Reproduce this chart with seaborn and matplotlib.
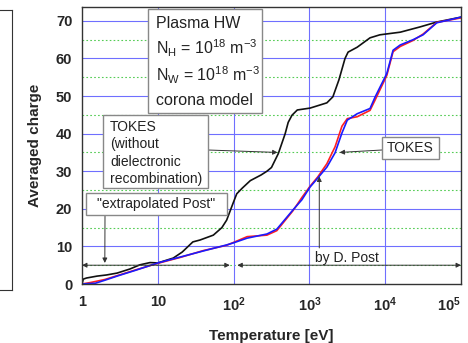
import matplotlib
matplotlib.use('Agg')
import matplotlib.pyplot as plt
from matplotlib.patches import Rectangle
from matplotlib.ticker import FixedLocator, LogLocator, NullFormatter
import seaborn as sns
import pandas as pd

# averaged charge of W vs electron temperature
t_nodr = [1.0, 1.04, 1.15, 1.58, 2.1, 2.9, 4.3, 5.8, 7.9, 10, 16, 21, 29, 36, 54, 70, 81, 98,
          110, 130, 166, 230, 275, 316, 389, 479, 525, 589, 692, 1020, 1700, 2040, 2450,
          2950, 3240, 4270, 6310, 8510, 15800, 28800, 47900, 100000]
z_nodr = [0, 1.3, 1.6, 2.1, 2.4, 2.9, 4.0, 5.1, 5.7, 5.6, 6.9, 8.5, 11.2, 11.7, 13.0, 15.0, 17.0, 21.4,
          24.0, 25.5, 27.5, 29.0, 30.0, 31.0, 34.7, 40.0, 43.0, 44.9, 46.3, 46.8, 48.2, 49.8, 54.3,
          60.0, 61.7, 63.0, 65.5, 66.3, 67.0, 68.4, 69.7, 71.0]

t_post = [1, 1.3, 2, 3, 5, 10, 20, 40, 81, 98, 151, 275, 372, 607, 795, 1020, 1290, 1700, 2180,
          2690, 3160, 4270, 6310, 7380, 10500, 12700, 15800, 23300, 31600, 47900, 100000]
z_post = [0, 0.4, 1.2, 2.3, 3.7, 5.5, 7.1, 8.9, 10.3, 11.0, 12.6, 13.0, 14.2, 19.5, 23.0, 26.0, 28.5,
          32.0, 36.5, 42.0, 44.0, 44.5, 46.2, 49.0, 55.5, 61.8, 63.2, 64.8, 66.5, 69.6, 70.8]

t_tokes = [1, 1.5, 2, 3, 5, 10, 20, 40, 81, 98, 151, 275, 372, 607, 795, 1020, 1290, 1700, 2180,
           2690, 3160, 4270, 6310, 7380, 10500, 12700, 15800, 23300, 31600, 47900, 100000]
z_tokes = [0, 0.2, 1.0, 2.2, 3.6, 5.6, 7.2, 8.8, 10.4, 10.9, 12.2, 13.3, 14.6, 19.7, 22.4, 25.8, 28.2,
           31.1, 34.9, 40.2, 43.6, 45.3, 46.7, 49.8, 56.0, 62.2, 63.6, 65.0, 66.3, 69.5, 71.0]

x_ticks = [1, 10, 100, 1000, 10000, 100000]
x_labels = ['1', '10', r'$\mathbf{10^{2}}$', r'$\mathbf{10^{3}}$', r'$\mathbf{10^{4}}$', r'$\mathbf{10^{5}}$']
y_ticks = [0, 10, 20, 30, 40, 50, 60, 70]

W, H = 468, 343


def fx(px):
    return px / W


def fy(py):
    return 1 - py / H


sns.set_style('white')
plt.rcParams['font.family'] = ['Liberation Sans', 'DejaVu Sans']
plt.rcParams['mathtext.fontset'] = 'custom'
plt.rcParams['mathtext.rm'] = 'Liberation Sans'
plt.rcParams['mathtext.bf'] = 'Liberation Sans:bold'
plt.rcParams['mathtext.it'] = 'Liberation Sans:italic'

fig = plt.figure(figsize=(W / 100, H / 100), dpi=100)
ax = fig.add_axes([fx(82), fy(284), (461 - 82) / W, (284 - 7) / H])

# cut-off neighbouring panel on the far left
ax0 = fig.add_axes([-0.02, fy(290), fx(12) + 0.02, (290 - 10) / H])
ax0.set_xticks([])
ax0.set_yticks([])
ax0.spines['left'].set_visible(False)
for s in ['right', 'top', 'bottom']:
    ax0.spines[s].set_color('#333333')

# grid
for y in y_ticks[1:]:
    ax.axhline(y, color='#6f6fff', lw=0.8, zorder=0)
for y in [5, 15, 25, 35, 45, 55, 65]:
    ax.axhline(y, color='#55cc55', lw=0.8, ls=(0, (1.5, 2)), zorder=0)
for x in x_ticks[1:-1]:
    ax.axvline(x, color='#6f6fff', lw=0.8, zorder=0)

df = pd.concat([
    pd.DataFrame({'T': t_nodr, 'Z': z_nodr, 'run': 'nodr'}),
    pd.DataFrame({'T': t_post, 'Z': z_post, 'run': 'post'}),
    pd.DataFrame({'T': t_tokes, 'Z': z_tokes, 'run': 'tokes'}),
])
sns.lineplot(data=df, x='T', y='Z', hue='run', estimator=None, sort=False,
             palette={'nodr': '#111111', 'post': '#ff2020', 'tokes': '#1a1aff'},
             lw=1.2, legend=False, ax=ax)

ax.set_xscale('log')
ax.set_xlim(1, 1e5)
ax.set_ylim(0, 73.7)
ax.xaxis.set_major_locator(FixedLocator(x_ticks))
ax.set_xticklabels(x_labels)
ax.xaxis.set_minor_locator(LogLocator(base=10, subs=range(2, 10), numticks=20))
ax.xaxis.set_minor_formatter(NullFormatter())
ax.set_yticks(y_ticks)
ax.tick_params(axis='x', which='major', direction='in', length=5, width=1, pad=8, labelsize=10.5)
ax.tick_params(axis='x', which='minor', direction='in', length=3, width=0.8)
ax.tick_params(axis='y', direction='out', length=4, width=1, pad=3, labelsize=10.5)
for lab in ax.get_xticklabels() + ax.get_yticklabels():
    lab.set_fontweight('bold')
ax.get_xticklabels()[-1].set_horizontalalignment('right')
for s in ax.spines.values():
    s.set_color('#333333')
    s.set_linewidth(1.0)
ax.set_xlabel('Temperature [eV]', fontsize=11, fontweight='bold', labelpad=11)
ax.set_ylabel('Averaged charge', fontsize=11, fontweight='bold', labelpad=10)

txt = '#222222'
box_ec = '#888888'


def box(x0, y0, x1, y1):
    fig.add_artist(Rectangle((fx(x0), fy(y1)), (x1 - x0) / W, (y1 - y0) / H,
                             transform=fig.transFigure, fc='white', ec=box_ec, lw=1.0, zorder=5))


# Plasma parameters box
box(148, 9, 262, 113)
plasma_lines = ['Plasma HW',
                r'N$_\mathregular{H}$ = 10$^\mathregular{18}$ m$^\mathregular{-3}$',
                r'N$_\mathregular{W}$ = 10$^\mathregular{18}$ m$^\mathregular{-3}$',
                'corona model']
for line, yy in zip(plasma_lines, [23, 48, 75, 100]):
    fig.text(fx(156), fy(yy), line, fontsize=11.5, color=txt, va='center', ha='left', zorder=6)

# TOKES without DR box
box(103, 115, 208, 188)
for line, yy in zip(['TOKES', '(without', 'dielectronic', 'recombination)'], [127, 144, 162, 179]):
    fig.text(fx(110), fy(yy), line, fontsize=10, color=txt, va='center', ha='left', zorder=6)

# extrapolated Post box
box(86, 193, 227, 215)
fig.text(fx(156.5), fy(204), '"extrapolated Post"', fontsize=10, color=txt, va='center', ha='center', zorder=6)

# TOKES box
box(382, 137, 439, 159)
fig.text(fx(410.5), fy(148.5), 'TOKES', fontsize=10, color=txt, va='center', ha='center', zorder=6)

ax.text(3160, 7.0, 'by D. Post', fontsize=10, color=txt, va='center', ha='center', zorder=6)

arr = dict(arrowstyle='-|>', color='#333333', lw=0.7, mutation_scale=7, shrinkA=0, shrinkB=0)
darr = dict(arrowstyle='<|-|>', color='#333333', lw=0.7, mutation_scale=7, shrinkA=0, shrinkB=0)

ax.annotate('', xy=(380, 35), xytext=(fx(208), fy(150)), textcoords='figure fraction', arrowprops=arr)
ax.annotate('', xy=(2500, 35), xytext=(fx(382), fy(150)), textcoords='figure fraction', arrowprops=arr)
ax.annotate('', xy=(2.0, 5.6), xytext=(fx(105), fy(215)), textcoords='figure fraction', arrowprops=arr)
ax.annotate('', xy=(1.0, 5), xytext=(89, 5), arrowprops=darr)
ax.annotate('', xy=(112, 5), xytext=(1e5, 5), arrowprops=darr)
ax.annotate('', xy=(1350, 28.6), xytext=(1350, 9.6), arrowprops=arr)

fig.savefig('out.png', dpi=100)
